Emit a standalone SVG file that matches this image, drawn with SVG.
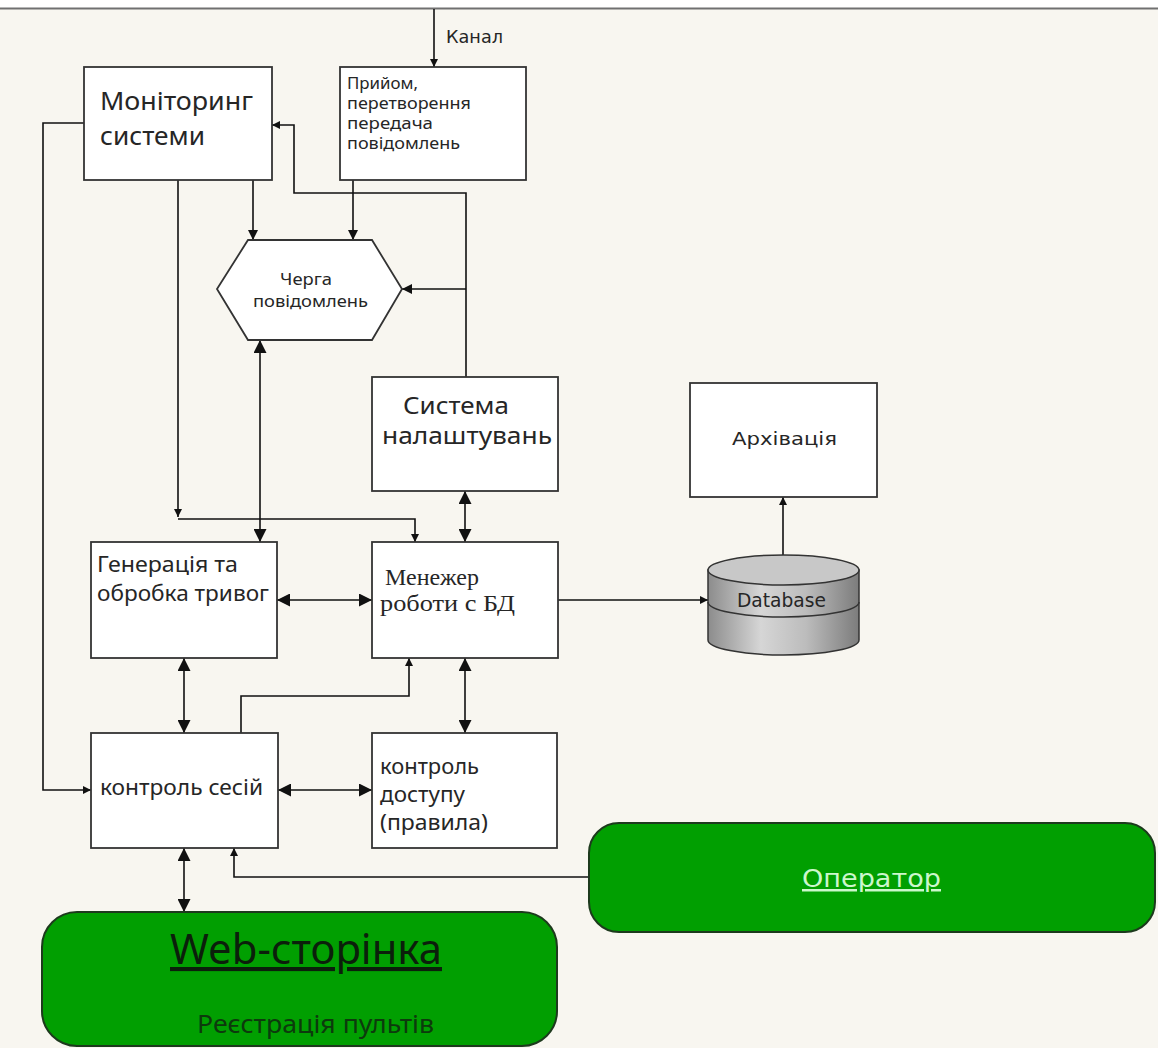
<svg xmlns="http://www.w3.org/2000/svg" width="1158" height="1048" viewBox="0 0 1158 1048">
  <defs>
    <marker id="sm" markerUnits="userSpaceOnUse" markerWidth="8" markerHeight="8" refX="8" refY="4" orient="auto">
      <path d="M0,0 L8,4 L0,8 z" fill="#111"/>
    </marker>
    <marker id="md" markerUnits="userSpaceOnUse" markerWidth="10" markerHeight="10" refX="10" refY="5" orient="auto">
      <path d="M0,0 L10,5 L0,10 z" fill="#111"/>
    </marker>
    <marker id="bg" markerUnits="userSpaceOnUse" markerWidth="13" markerHeight="13" refX="13" refY="6.5" orient="auto-start-reverse">
      <path d="M0,0 L13,6.5 L0,13 z" fill="#111"/>
    </marker>
    <linearGradient id="cyl" x1="0" y1="0" x2="1" y2="0">
      <stop offset="0" stop-color="#8c8c8c"/>
      <stop offset="0.35" stop-color="#d6d6d6"/>
      <stop offset="0.65" stop-color="#bcbcbc"/>
      <stop offset="1" stop-color="#7c7c7c"/>
    </linearGradient>
  </defs>
  <style>
    .box { fill: #ffffff; stroke: #333; stroke-width: 1.8; }
    .green { fill: #019f01; stroke: #1d3a1d; stroke-width: 2; }
    .ln { fill: none; stroke: #111; stroke-width: 1.6; }
    .t { font-family: "Noto Sans", "Open Sans", sans-serif; fill: #262626; }
    .v { font-family: "DejaVu Sans", Verdana, sans-serif; fill: #262626; }
    .s { font-family: "Liberation Serif", "Times New Roman", serif; fill: #262626; }
  </style>

  <!-- page -->
  <rect x="0" y="0" width="1158" height="1048" fill="#f8f6f0"/>
  <rect x="0" y="0" width="1158" height="8" fill="#ffffff"/>
  <line x1="0" y1="8.5" x2="1158" y2="8.5" stroke="#707070" stroke-width="2"/>

  <!-- connectors -->
  <g id="connectors">
    <path class="ln" d="M434,9 V67" marker-end="url(#sm)"/>
    <path class="ln" d="M84,123 H43 V790 H91" marker-end="url(#sm)"/>
    <path class="ln" d="M178,180 V517" marker-end="url(#sm)"/>
    <path class="ln" d="M178,519 H415 V542" marker-end="url(#sm)"/>
    <path class="ln" d="M253,180 V240" marker-end="url(#md)"/>
    <path class="ln" d="M353,180 V240" marker-end="url(#md)"/>
    <path class="ln" d="M466,377 V193 H294 V125 H272" marker-end="url(#sm)"/>
    <path class="ln" d="M466,289 H402" marker-end="url(#md)"/>
    <path class="ln" d="M260,340 V542" marker-start="url(#bg)" marker-end="url(#bg)"/>
    <path class="ln" d="M465,491 V542" marker-start="url(#bg)" marker-end="url(#bg)"/>
    <path class="ln" d="M277,600 H372" marker-start="url(#bg)" marker-end="url(#bg)"/>
    <path class="ln" d="M558,600 H708" marker-end="url(#sm)"/>
    <path class="ln" d="M783,555 V497" marker-end="url(#sm)"/>
    <path class="ln" d="M184,658 V733" marker-start="url(#bg)" marker-end="url(#bg)"/>
    <path class="ln" d="M241,733 V696 H409 V658" marker-end="url(#sm)"/>
    <path class="ln" d="M465,658 V733" marker-start="url(#bg)" marker-end="url(#bg)"/>
    <path class="ln" d="M278,790 H372" marker-start="url(#bg)" marker-end="url(#bg)"/>
    <path class="ln" d="M184,848 V912" marker-start="url(#bg)" marker-end="url(#bg)"/>
    <path class="ln" d="M589,877 H234 V848" marker-end="url(#sm)"/>
  </g>
  <text class="v" x="446" y="43" font-size="17" textLength="57" lengthAdjust="spacingAndGlyphs">Канал</text>

  <!-- nodes -->
  <g id="monitoring">
    <rect class="box" x="84" y="67" width="188" height="113"/>
    <text class="t" x="100" y="110" font-size="26" textLength="153" lengthAdjust="spacingAndGlyphs">Моніторинг</text>
    <text class="t" x="100" y="145" font-size="26" textLength="105" lengthAdjust="spacingAndGlyphs">системи</text>
  </g>

  <g id="receive">
    <rect class="box" x="340" y="67" width="186" height="113"/>
    <text class="t" x="347" y="89" font-size="15.5" textLength="71" lengthAdjust="spacingAndGlyphs">Прийом,</text>
    <text class="t" x="347" y="109" font-size="15.5" textLength="124" lengthAdjust="spacingAndGlyphs">перетворення</text>
    <text class="t" x="347" y="129" font-size="15.5" textLength="86" lengthAdjust="spacingAndGlyphs">передача</text>
    <text class="t" x="347" y="149" font-size="15.5" textLength="113" lengthAdjust="spacingAndGlyphs">повідомлень</text>
  </g>

  <g id="queue">
    <polygon class="box" points="248,240 372,240 402,289 372,340 248,340 217,289"/>
    <text class="t" x="280" y="285" font-size="17" textLength="52" lengthAdjust="spacingAndGlyphs">Черга</text>
    <text class="t" x="253" y="307" font-size="17" textLength="115" lengthAdjust="spacingAndGlyphs">повідомлень</text>
  </g>

  <g id="settings">
    <rect class="box" x="372" y="377" width="186" height="114"/>
    <text class="t" x="403" y="414" font-size="24" textLength="106" lengthAdjust="spacingAndGlyphs">Система</text>
    <text class="t" x="382" y="444" font-size="24" textLength="170" lengthAdjust="spacingAndGlyphs">налаштувань</text>
  </g>

  <g id="archive">
    <rect class="box" x="690" y="383" width="187" height="114"/>
    <text class="v" x="732" y="445" font-size="18" textLength="105" lengthAdjust="spacingAndGlyphs">Архівація</text>
  </g>

  <g id="alarms">
    <rect class="box" x="91" y="542" width="186" height="116"/>
    <text class="t" x="97" y="572" font-size="22.5" textLength="141" lengthAdjust="spacingAndGlyphs">Генерація та</text>
    <text class="t" x="97" y="601" font-size="22.5" textLength="172" lengthAdjust="spacingAndGlyphs">обробка тривог</text>
  </g>

  <g id="db-manager">
    <rect class="box" x="372" y="542" width="186" height="116"/>
    <text class="s" x="385" y="585" font-size="23" textLength="94" lengthAdjust="spacingAndGlyphs">Менежер</text>
    <text class="s" x="380" y="611" font-size="23" textLength="135" lengthAdjust="spacingAndGlyphs">роботи  с БД</text>
  </g>

  <g id="database">
    <path d="M708,570 V640 A75.5,15 0 0 0 859,640 V570 z" fill="url(#cyl)" stroke="#333" stroke-width="1.5"/>
    <ellipse cx="783.5" cy="570" rx="75.5" ry="15" fill="#c8c8c8" stroke="#333" stroke-width="1.5"/>
    <path d="M708,602 A75.5,15 0 0 0 859,602" fill="none" stroke="#333" stroke-width="1.5"/>
    <text class="v" x="737" y="607" font-size="19" textLength="89" lengthAdjust="spacingAndGlyphs">Database</text>
  </g>

  <g id="sessions">
    <rect class="box" x="91" y="733" width="187" height="115"/>
    <text class="t" x="100" y="795" font-size="22.5" textLength="163" lengthAdjust="spacingAndGlyphs">контроль сесій</text>
  </g>

  <g id="access">
    <rect class="box" x="372" y="733" width="185" height="115"/>
    <text class="t" x="380" y="774" font-size="22.5" textLength="99" lengthAdjust="spacingAndGlyphs">контроль</text>
    <text class="t" x="380" y="802" font-size="22.5" textLength="85" lengthAdjust="spacingAndGlyphs">доступу</text>
    <text class="t" x="380" y="830" font-size="22.5" textLength="108" lengthAdjust="spacingAndGlyphs">(правила)</text>
  </g>

  <g id="web-page">
    <rect class="green" x="42" y="912" width="515" height="134" rx="35"/>
    <text class="t" x="170" y="964" font-size="41" textLength="272" lengthAdjust="spacingAndGlyphs" text-decoration="underline" style="fill:#0b1f0b">Web-сторінка</text>
    <text class="t" x="197" y="1033" font-size="26" textLength="237" lengthAdjust="spacingAndGlyphs" style="fill:#0d3a0d">Реєстрація пультів</text>
  </g>

  <g id="operator">
    <rect class="green" x="589" y="823" width="566" height="109" rx="30"/>
    <text class="v" x="802" y="887" font-size="25" textLength="139" lengthAdjust="spacingAndGlyphs" text-decoration="underline" style="fill:#ccf7cc">Оператор</text>
  </g>
</svg>
